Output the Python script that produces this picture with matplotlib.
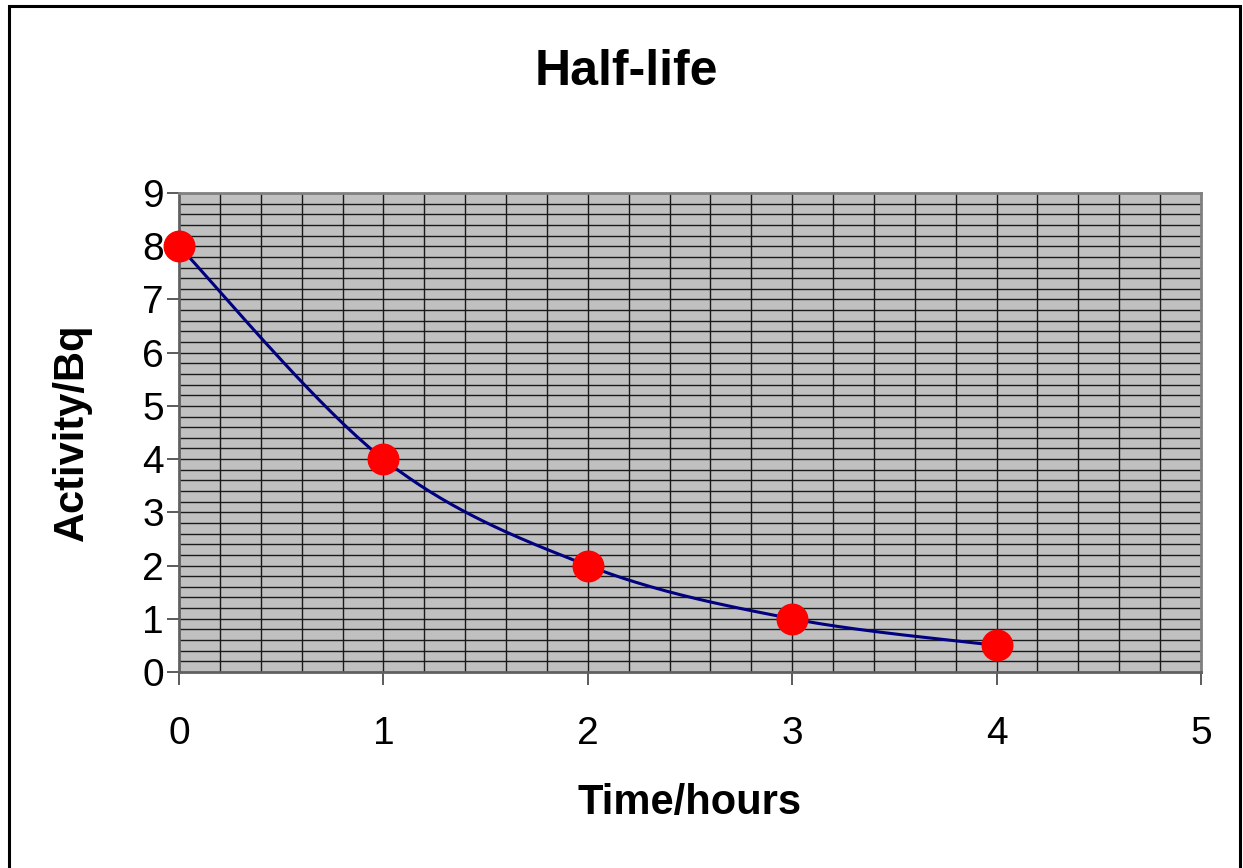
import matplotlib
matplotlib.use("Agg")
import matplotlib.pyplot as plt
import numpy as np
from matplotlib.patches import Rectangle

plt.rcParams['font.family'] = ['Liberation Sans', 'DejaVu Sans']

time_hours = [0, 1, 2, 3, 4]
activity_bq = [8, 4, 2, 1, 0.5]
x_ticks = [0, 1, 2, 3, 4, 5]
y_ticks = [0, 1, 2, 3, 4, 5, 6, 7, 8, 9]


def smooth_curve(xs, ys, n=40):
    # Catmull-Rom style smoothing like a spreadsheet "smoothed line"
    px = np.array([xs[0]] + list(xs) + [xs[-1]], dtype=float)
    py = np.array([ys[0]] + list(ys) + [ys[-1]], dtype=float)
    out_x, out_y = [], []
    t = np.linspace(0, 1, n)
    for i in range(1, len(px) - 2):
        for arr, out in ((px, out_x), (py, out_y)):
            p0, p1, p2, p3 = arr[i - 1], arr[i], arr[i + 1], arr[i + 2]
            seg = 0.5 * ((2 * p1) + (-p0 + p2) * t
                         + (2 * p0 - 5 * p1 + 4 * p2 - p3) * t ** 2
                         + (-p0 + 3 * p1 - 3 * p2 + p3) * t ** 3)
            out.extend(seg)
    return np.array(out_x), np.array(out_y)


fig = plt.figure(figsize=(12.43, 8.68), dpi=100)
fig.patch.set_facecolor('white')

# outer chart frame
fig.patches.append(Rectangle((9 / 1243, -0.02), 1231 / 1243, 1 - 6 / 868 + 0.02,
                             transform=fig.transFigure, fill=False,
                             edgecolor='black', linewidth=2.2))

ax = fig.add_axes([179 / 1243, 1 - 672 / 868, 1022 / 1243, 479 / 868])
ax.set_facecolor('#C0C0C0')
ax.set_xlim(0, 5)
ax.set_ylim(0, 9)

# grid every 0.2
for gx in np.arange(0.2, 5.0, 0.2):
    ax.axvline(gx, color='#1a1a1a', linewidth=1.0, zorder=1)
for gy in np.arange(0.2, 9.0, 0.2):
    ax.axhline(gy, color='#1a1a1a', linewidth=1.0, zorder=1)

sx, sy = smooth_curve(time_hours, activity_bq)
ax.plot(sx, sy, color='#000080', linewidth=2.2, zorder=3, clip_on=False)
ax.plot(time_hours, activity_bq, linestyle='none', marker='o', markersize=22,
        color='#FF0000', zorder=4, clip_on=False)

for side in ['left', 'bottom', 'top', 'right']:
    ax.spines[side].set_color('#808080')
    ax.spines[side].set_linewidth(2.0)
ax.spines['left'].set_color('#606060')
ax.spines['bottom'].set_color('#606060')

ax.set_xticks(x_ticks)
ax.set_yticks(y_ticks)
ax.tick_params(axis='both', direction='out', length=9, width=1.2, color='#404040',
               labelsize=28)
ax.tick_params(axis='x', pad=23)
ax.tick_params(axis='y', pad=2)

fig.text(626 / 1243, 1 - 72 / 868, 'Half-life', fontsize=36, fontweight='bold',
         ha='center', va='center')
ax.set_xlabel('Time/hours', fontsize=30, fontweight='bold', labelpad=22)
ax.set_ylabel('Activity/Bq', fontsize=30, fontweight='bold')
ax.yaxis.set_label_coords(-0.085, 0.5)

fig.savefig('out.png', dpi=100)
